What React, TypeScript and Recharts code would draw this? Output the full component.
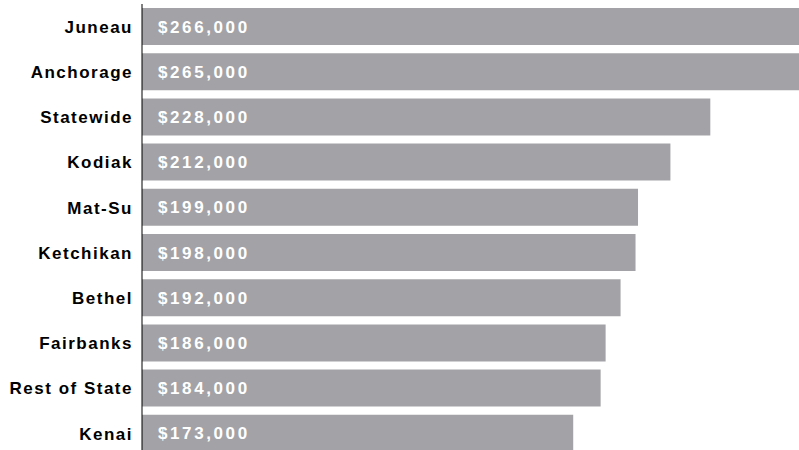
import React from "react";
import { BarChart, Bar, XAxis, YAxis, LabelList } from "recharts";

const places = [
  "Juneau",
  "Anchorage",
  "Statewide",
  "Kodiak",
  "Mat-Su",
  "Ketchikan",
  "Bethel",
  "Fairbanks",
  "Rest of State",
  "Kenai",
];
const prices = [266000, 265000, 228000, 212000, 199000, 198000, 192000, 186000, 184000, 173000];

const data = places.map((name, i) => ({ name, value: prices[i] }));

const FONT = "Arial, 'Liberation Sans', sans-serif";

const PlaceTick = (props: any) => {
  const { x, y, payload } = props;
  return (
    <text
      x={x}
      y={y}
      dy="0.36em"
      textAnchor="end"
      fontFamily={FONT}
      fontSize={17}
      fontWeight="bold"
      fill="#000"
      style={{ letterSpacing: "1.5px" }}
    >
      {payload.value}
    </text>
  );
};

const PriceLabel = (props: any) => {
  const { x, y, height, value } = props;
  return (
    <text
      x={x + 16}
      y={y + height / 2}
      dy="0.36em"
      fontFamily={FONT}
      fontSize={17}
      fontWeight="bold"
      fill="#fff"
      style={{ letterSpacing: "2.6px" }}
    >
      {"$" + value.toLocaleString("en-US")}
    </text>
  );
};

export default function App() {
  return (
    <div
      style={{
        position: "absolute",
        left: 0,
        top: 0,
        width: 799,
        height: 450,
        overflow: "hidden",
        background: "#fff",
      }}
    >
      <BarChart
        width={815}
        height={456}
        data={data}
        layout="vertical"
        margin={{ top: 4, right: 0, bottom: 0, left: 0 }}
        barSize={37}
      >
        <XAxis type="number" domain={[0, 270000]} hide />
        <YAxis
          type="category"
          dataKey="name"
          width={142}
          tickLine={false}
          tickSize={0}
          tickMargin={9}
          axisLine={{ stroke: "#000", strokeWidth: 1 }}
          tick={<PlaceTick />}
          interval={0}
        />
        <Bar dataKey="value" fill="#a3a3a7" isAnimationActive={false}>
          <LabelList dataKey="value" content={<PriceLabel />} />
        </Bar>
      </BarChart>
    </div>
  );
}
